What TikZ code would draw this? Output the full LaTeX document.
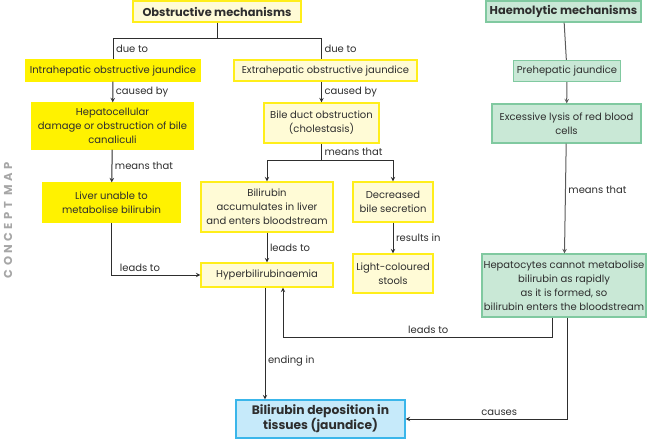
\documentclass[tikz,border=0pt]{standalone}
\usepackage{fontspec}
\setmainfont{Poppins}
\usepackage{xcolor}
\usepackage{tikz}
\usetikzlibrary{arrows}

\definecolor{hotyellow}{HTML}{FFF200}
\definecolor{paleyellow}{HTML}{FFFBD6}
\definecolor{yellowedge}{HTML}{FFEE1A}
\definecolor{mint}{HTML}{C9E8D6}
\definecolor{mintedge}{HTML}{80C9A0}
\definecolor{sky}{HTML}{C6EAFA}
\definecolor{skyedge}{HTML}{3AB6EA}
\definecolor{ink}{HTML}{2E2E2E}
\definecolor{greyink}{HTML}{5A5A5A}

\tikzset{
  box/.style={inner sep=0pt, align=center, text=ink, line width=1.2pt,
    font=\fontsize{10}{14}\selectfont},
  hotbox/.style={box, fill=hotyellow, draw=hotyellow},
  palebox/.style={box, fill=paleyellow, draw=yellowedge},
  greenbox/.style={box, fill=mint, draw=mintedge},
  bluebox/.style={box, fill=sky, draw=skyedge},
  headbox/.style={font=\fontsize{11.4}{14}\selectfont\bfseries},
  tag/.style={text=ink, font=\fontsize{10}{12}\selectfont, inner sep=2.5pt},
}

\begin{document}
\begin{tikzpicture}[x=1pt, y=-1pt, >=stealth, line width=1pt]
        \useasboundingbox (0,0) rectangle (650,439);
        % side title
        \node[rotate=90, text=gray!70, font=\fontsize{11.5}{12}\selectfont\bfseries\addfontfeatures{LetterSpace=30}] (side) at (8,220) {CONCEPT\hspace{7pt}MAP};

        % headings
        \node[palebox, headbox, minimum width=168, minimum height=21] (obs) at (217,11.5) {Obstructive mechanisms};
        \node[greenbox, headbox, minimum width=155, minimum height=21] (haem) at (563.5,11.5) {Haemolytic mechanisms};

        % obstructive side
        \node[hotbox, minimum width=175, minimum height=21] (intra) at (113,70.5) {Intrahepatic obstructive jaundice};
        \node[palebox, minimum width=183, minimum height=21] (extra) at (325.5,70.5) {Extrahepatic obstructive jaundice};
        \node[hotbox, minimum width=161, minimum height=46] (hepato) at (112.5,126) {Hepatocellular\\damage or obstruction of bile\\canaliculi};
        \node[palebox, minimum width=115, minimum height=40] (bile) at (321.5,123) {Bile duct obstruction\\(cholestasis)};
        \node[hotbox, minimum width=137, minimum height=39] (liver) at (111.5,202.5) {Liver unable to\\metabolise bilirubin};
        \node[palebox, minimum width=132, minimum height=50] (bili) at (267,207) {Bilirubin\\accumulates in liver\\and enters bloodstream};
        \node[palebox, minimum width=80, minimum height=40] (decr) at (393,202) {Decreased\\bile secretion};
        \node[palebox, minimum width=132, minimum height=24] (hyper) at (267,275) {Hyperbilirubinaemia};
        \node[palebox, minimum width=80, minimum height=39] (stools) at (393,273.5) {Light-coloured\\stools};

        % haemolytic side
        \node[greenbox, minimum width=107, minimum height=21] (pre) at (567,71) {Prehepatic jaundice};
        \node[greenbox, minimum width=149, minimum height=39] (lysis) at (566.5,123.5) {Excessive lysis of red blood\\cells};
        \node[greenbox, minimum width=164, minimum height=63] (hepcy) at (564,285.5) {Hepatocytes cannot metabolise\\bilirubin as rapidly\\as it is formed, so\\bilirubin enters the bloodstream};

        % outcome
        \node[bluebox, headbox, font=\fontsize{12.3}{15}\selectfont\bfseries, minimum width=169, minimum height=38] (depo) at (320.5,419) {Bilirubin deposition in\\tissues (jaundice)};

        \coordinate (fork) at (217,38);
        \coordinate (split) at (321.5,160);
        \coordinate (back) at (283,337);

        \draw[ink] (obs) -- (fork);
        \draw[ink] (fork) -| node[tag, right, pos=0.75] {due to} (intra);
        \draw[ink] (fork) -| node[tag, right, pos=0.75] {due to} (extra.north -| bile);
        \draw[ink] (intra) edge[->] node[tag, right] {caused by} (hepato);
        \draw[ink] (extra.south -| bile) edge[->] node[tag, right] {caused by} (bile);
        \draw[ink] (hepato) edge[->] node[tag, right] {means that} (liver);
        \draw[ink] (bile) -- node[tag, right] {means that} (split);
        \draw[ink, ->] (split) -| (bili);
        \draw[ink, ->] (split) -| (decr);
        \draw[ink] (bili) edge[->] node[tag, right] {leads to} (hyper);
        \draw[ink] (decr) edge[->] node[tag, right] {results in} (stools);
        \draw[ink, ->] (liver) |- node[tag, above, pos=0.66] {leads to} (hyper);
        \draw[ink, ->] (hyper.south -| 265,0) -- node[tag, right, pos=0.66] {ending in} (depo.north -| 265,0);

        \draw[greyink] (haem) -- (pre);
        \draw[greyink] (pre) edge[->] (lysis);
        \draw[greyink] (lysis) edge[->] node[tag, right, pos=0.42] {means that} (hepcy);
        \draw[ink, ->] ([xshift=-12pt]hepcy.south) |- node[tag, above, pos=0.73] {leads to} (back) -- (back |- hyper.south);
        \draw[ink, ->] ([xshift=3pt]hepcy.south) |- node[tag, above, pos=0.71] {causes} (depo);
    \end{tikzpicture}
\end{document}
